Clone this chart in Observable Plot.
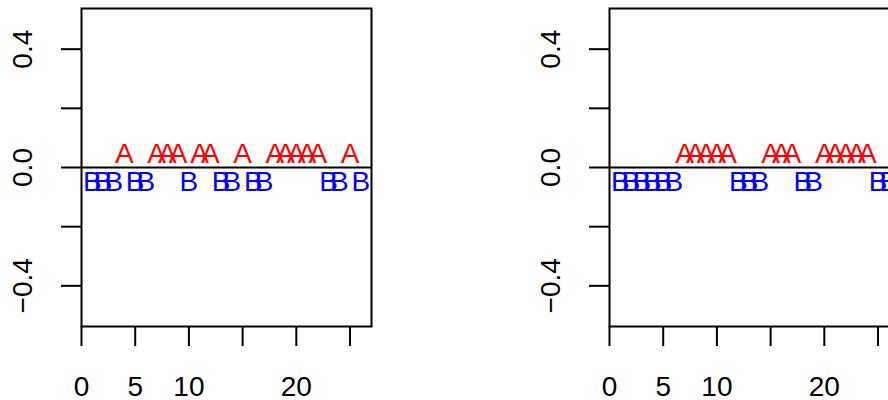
<!DOCTYPE html>
<html>
<head>
<meta charset="utf-8">
<script src="https://cdn.jsdelivr.net/npm/d3@7"></script>
<script src="https://cdn.jsdelivr.net/npm/@observablehq/plot@0.6"></script>
<style>
  html, body { margin: 0; padding: 0; background: #fff; }
  #wrap { position: relative; width: 888px; height: 400px; overflow: hidden; background: #fff; }
  .panel { position: absolute; top: 0; width: 400px; height: 400px; }
  .panel svg { max-width: none !important; }
</style>
</head>
<body>
<div id="wrap">
  <div class="panel" id="p1" style="left:0px"></div>
  <div class="panel" id="p2" style="left:528px"></div>
</div>
<script>
// ---- data ----
const positions = d3.range(1, 27);
const leftLetters  = ["B","B","B","A","B","B","A","A","A","B","A","A","B","B","A","B","B","A","A","A","A","A","B","B","A","B"];
const rightLetters = ["B","B","B","B","B","B","A","A","A","A","A","B","B","B","A","A","A","B","B","A","A","A","A","A","B","B"];
const xTicks = [0, 5, 10, 15, 20, 25];
const xTickLabels = ["0", "5", "10", "", "20", ""];
const yTicks = [-0.4, -0.2, 0, 0.2, 0.4];
const yTickLabels = ["\u22120.4", "", "0.0", "", "0.4"];
const xDomain = [0, 27];
const yDomain = [-0.5375, 0.5375];
const letterColors = {A: "#FF0000", B: "#0000FF"};

const FONT = "'Liberation Sans', Arial, Helvetica, sans-serif";

function panel(letters) {
  const data = positions.map((x, i) => ({x, letter: letters[i]}));
  return Plot.plot({
    width: 400,
    height: 400,
    marginLeft: 81,
    marginRight: 29,
    marginTop: 8,
    marginBottom: 74,
    style: {fontFamily: FONT, fontSize: "28px", background: "#fff", color: "#000"},
    x: {domain: xDomain},
    y: {domain: yDomain},
    marks: [
      Plot.ruleY([0], {stroke: "#000", strokeWidth: 2}),
      Plot.text(data.filter(d => d.letter === "A"), {
        x: "x", y: () => 0, text: "letter", fill: letterColors.A,
        fontSize: 28, lineAnchor: "middle", dy: -13
      }),
      Plot.text(data.filter(d => d.letter === "B"), {
        x: "x", y: () => 0, text: "letter", fill: letterColors.B,
        fontSize: 28, lineAnchor: "middle", dy: 15
      }),
      Plot.axisX({
        ticks: xTicks,
        tickFormat: d => xTickLabels[xTicks.indexOf(d)],
        tickSize: 20, tickPadding: 30, strokeWidth: 2,
        fontSize: 28, label: null
      }),
      Plot.axisY({
        ticks: yTicks,
        tickFormat: d => yTickLabels[yTicks.findIndex(t => Math.abs(t - d) < 1e-9)],
        tickSize: 20, tickRotate: -90, tickPadding: 30, strokeWidth: 2,
        fontSize: 28, label: null
      }),
      Plot.frame({stroke: "#000", strokeWidth: 2})
    ]
  });
}

document.getElementById("p1").appendChild(panel(leftLetters));
document.getElementById("p2").appendChild(panel(rightLetters));
</script>
</body>
</html>
